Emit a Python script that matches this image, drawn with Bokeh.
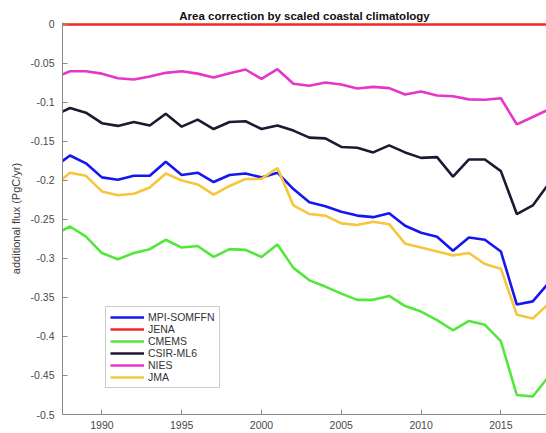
from bokeh.plotting import figure
from bokeh.models import Range1d, FixedTicker, Legend, LegendItem
from bokeh.embed import file_html
from bokeh.resources import INLINE

years = list(range(1987, 2019))

mpi = [-0.183, -0.168, -0.178, -0.196, -0.199, -0.194, -0.194, -0.176, -0.193, -0.190,
       -0.202, -0.193, -0.191, -0.196, -0.190, -0.211, -0.228, -0.233, -0.240, -0.245,
       -0.247, -0.242, -0.258, -0.267, -0.272, -0.290, -0.273, -0.276, -0.291, -0.359,
       -0.355, -0.331]
jena = [0.0] * len(years)
cmems = [-0.270, -0.259, -0.272, -0.293, -0.301, -0.293, -0.288, -0.276, -0.286, -0.284,
         -0.298, -0.288, -0.289, -0.298, -0.282, -0.312, -0.328, -0.336, -0.345, -0.353,
         -0.353, -0.348, -0.361, -0.368, -0.379, -0.392, -0.380, -0.385, -0.406, -0.475,
         -0.477, -0.451]
csir = [-0.117, -0.107, -0.113, -0.1265, -0.130, -0.125, -0.1295, -0.1145, -0.131, -0.122,
        -0.134, -0.125, -0.124, -0.134, -0.1295, -0.136, -0.145, -0.146, -0.157, -0.158,
        -0.164, -0.155, -0.164, -0.171, -0.170, -0.195, -0.173, -0.173, -0.188, -0.243,
        -0.232, -0.204]
nies = [-0.0685, -0.060, -0.060, -0.063, -0.069, -0.0705, -0.0667, -0.062, -0.060, -0.063,
        -0.068, -0.0624, -0.0577, -0.0697, -0.0573, -0.076, -0.0786, -0.0744, -0.077, -0.082,
        -0.080, -0.0816, -0.0897, -0.086, -0.091, -0.092, -0.096, -0.0965, -0.0945, -0.128,
        -0.1186, -0.109]
jma = [-0.207, -0.190, -0.194, -0.214, -0.219, -0.217, -0.209, -0.191, -0.200, -0.205,
       -0.218, -0.207, -0.198, -0.198, -0.184, -0.232, -0.243, -0.245, -0.255, -0.257,
       -0.253, -0.256, -0.281, -0.286, -0.291, -0.296, -0.293, -0.307, -0.313, -0.372,
       -0.377, -0.358]

names = ["MPI-SOMFFN", "JENA", "CMEMS", "CSIR-ML6", "NIES", "JMA"]
series = [mpi, jena, cmems, csir, nies, jma]
colors = ["#1616f2", "#ee2b24", "#52e83a", "#1a1a33", "#e636c8", "#f6c63c"]

x_ticks = [1990, 1995, 2000, 2005, 2010, 2015]
y_ticks = [0, -0.05, -0.1, -0.15, -0.2, -0.25, -0.3, -0.35, -0.4, -0.45, -0.5]
y_tick_labels = ["0", "-0.05", "-0.1", "-0.15", "-0.2", "-0.25", "-0.3", "-0.35", "-0.4", "-0.45", "-0.5"]

FONT = "Liberation Sans"

p = figure(frame_width=484, frame_height=392,
           x_range=Range1d(1987.53, 2017.86), y_range=Range1d(-0.5, 0.00256),
           output_backend="svg", toolbar_location=None,
           min_border_left=62, min_border_right=0, min_border_top=22, min_border_bottom=19,
           title="Area correction by scaled coastal climatology")

p.title.align = "center"
p.title.text_font = FONT
p.title.text_font_size = "11.5px"
p.title.text_font_style = "bold"
p.title.text_color = "#111111"
p.title.standoff = 1
p.title.offset = 0

p.outline_line_color = None
p.xgrid.visible = False
p.ygrid.visible = False
p.background_fill_color = "white"
p.border_fill_color = "white"

for ax in (p.xaxis[0], p.yaxis[0]):
    ax.axis_line_color = "#8a8a8a"
    ax.major_tick_line_color = "#8a8a8a"
    ax.major_tick_in = 5
    ax.major_tick_out = 0
    ax.minor_tick_line_color = None
    ax.major_label_text_font = FONT
    ax.major_label_text_font_size = "10.5px"
    ax.major_label_text_color = "#4a4a4a"

p.xaxis.ticker = FixedTicker(ticks=x_ticks)
p.xaxis.major_label_standoff = 6
p.yaxis.ticker = FixedTicker(ticks=y_ticks)
p.yaxis.major_label_overrides = {t: l for t, l in zip(y_ticks, y_tick_labels)}
p.yaxis.major_label_standoff = 8
p.yaxis.axis_label = "additional flux (PgC/yr)"
p.yaxis.axis_label_text_font = FONT
p.yaxis.axis_label_text_font_size = "11px"
p.yaxis.axis_label_text_font_style = "normal"
p.yaxis.axis_label_text_color = "#3a3a3a"
p.yaxis.axis_label_standoff = 6

items = []
for name, vals, col in zip(names, series, colors):
    r = p.line(years, vals, line_color=col, line_width=2.6)
    items.append(LegendItem(label=name, renderers=[r]))

legend = Legend(items=items, location=(43, 26))
legend.margin = 0
legend.padding = 4
legend.spacing = 0
legend.label_height = 12
legend.glyph_height = 12
legend.glyph_width = 34
legend.label_standoff = 4
legend.label_text_font = FONT
legend.label_text_font_size = "10.5px"
legend.label_text_color = "#333333"
legend.border_line_color = "#999999"
legend.border_line_width = 1
legend.background_fill_color = "white"
legend.background_fill_alpha = 1.0
p.add_layout(legend, "center")

open("out.html", "w").write(file_html(p, INLINE))
